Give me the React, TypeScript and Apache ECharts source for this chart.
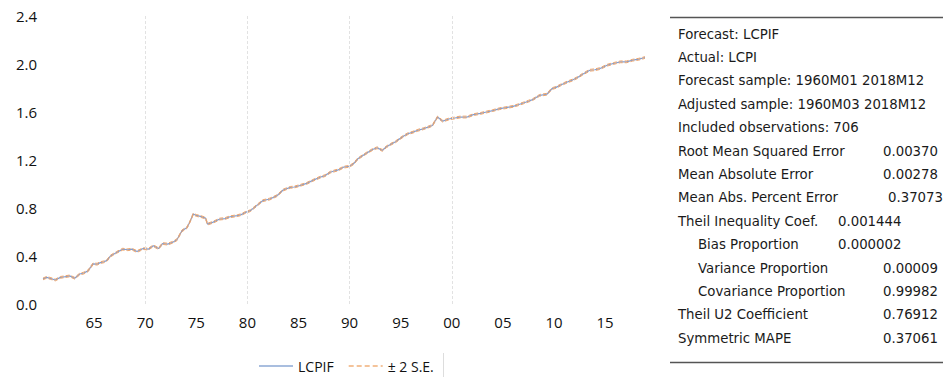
import React, { useEffect, useRef } from "react";
import * as echarts from "echarts";

// Decimal year positions of the read points and the LCPIF forecast values
const years = [
  1960.0, 1960.35, 1960.7, 1961.2, 1961.7, 1962.2, 1962.6, 1963.1, 1963.6, 1964.0, 1964.4, 1964.9,
  1965.3, 1965.6, 1966.0, 1966.3, 1966.6, 1967.2, 1967.8, 1968.3, 1968.7, 1969.2, 1969.8, 1970.3,
  1970.8, 1971.3, 1971.7, 1972.2, 1972.7, 1973.1, 1973.6, 1974.1, 1974.4, 1974.7, 1975.0, 1975.4,
  1975.9, 1976.1, 1976.6, 1977.3, 1977.8, 1978.3, 1979.0, 1979.4, 1979.8, 1980.3, 1980.9, 1981.5,
  1982.2, 1982.9, 1983.5, 1984.2, 1984.6, 1985.1, 1985.8, 1986.4, 1987.1, 1987.6, 1988.1, 1988.4,
  1988.9, 1989.4, 1990.0, 1990.4, 1990.8, 1991.3, 1991.8, 1992.3, 1992.7, 1993.2, 1993.6, 1994.0,
  1994.5, 1994.9, 1995.3, 1995.7, 1996.2, 1996.6, 1997.2, 1997.6, 1998.1, 1998.6, 1999.1, 1999.8,
  2000.3, 2000.8, 2001.5, 2002.1, 2002.8, 2003.4, 2004.0, 2004.7, 2005.3, 2006.0, 2006.5, 2007.0,
  2007.5, 2007.9, 2008.6, 2009.3, 2009.8, 2010.2, 2010.6, 2011.3, 2011.8, 2012.3, 2012.8, 2013.5,
  2014.0, 2014.5, 2015.2, 2015.8, 2016.5, 2017.1, 2017.7, 2018.3, 2018.9,
];

const lcpif = [
  0.209, 0.222, 0.214, 0.2, 0.222, 0.228, 0.234, 0.215, 0.25, 0.258, 0.276, 0.335,
  0.332, 0.345, 0.352, 0.367, 0.4, 0.43, 0.457, 0.452, 0.457, 0.437, 0.462, 0.457,
  0.485, 0.462, 0.504, 0.499, 0.515, 0.535, 0.61, 0.638, 0.69, 0.75, 0.738, 0.73,
  0.716, 0.666, 0.68, 0.708, 0.712, 0.727, 0.736, 0.745, 0.763, 0.778, 0.82, 0.861,
  0.875, 0.903, 0.95, 0.972, 0.975, 0.987, 1.005, 1.03, 1.056, 1.07, 1.098, 1.106,
  1.118, 1.14, 1.148, 1.17, 1.21, 1.238, 1.265, 1.29, 1.302, 1.28, 1.31, 1.33,
  1.352, 1.377, 1.4, 1.419, 1.432, 1.446, 1.46, 1.472, 1.488, 1.558, 1.524, 1.544,
  1.55, 1.558, 1.558, 1.578, 1.588, 1.6, 1.612, 1.628, 1.636, 1.647, 1.66, 1.675,
  1.69, 1.703, 1.739, 1.748, 1.795, 1.805, 1.823, 1.85, 1.866, 1.887, 1.915, 1.948,
  1.952, 1.962, 1.99, 2.004, 2.018, 2.018, 2.032, 2.04, 2.054,
];

// Forecast standard error (two of them either side of the forecast)
const seValue = 0.0037;

const gridYears = [1970, 1980, 1990, 2000];

const statLabels = [
  "Forecast: LCPIF",
  "Actual: LCPI",
  "Forecast sample: 1960M01 2018M12",
  "Adjusted sample: 1960M03 2018M12",
  "Included observations: 706",
  "Root Mean Squared Error",
  "Mean Absolute Error",
  "Mean Abs. Percent Error",
  "Theil Inequality Coef.",
  "Bias Proportion",
  "Variance Proportion",
  "Covariance Proportion",
  "Theil U2 Coefficient",
  "Symmetric MAPE",
];
const statValues = [
  "", "", "", "", "",
  "0.00370", "0.00278", "0.37073", "0.001444", "0.000002",
  "0.00009", "0.99982", "0.76912", "0.37061",
];
// layout per row: [label x, value x]
const statLayout: [number, number][] = [
  [678, 0], [678, 0], [678, 0], [678, 0], [678, 0],
  [678, 883], [678, 883], [678, 888], [678, 838], [698, 838],
  [698, 883], [698, 883], [678, 883], [678, 883],
];

const FONT = "'Open Sans', 'DejaVu Sans', sans-serif";
const STAT_FONT = "'DejaVu Sans', sans-serif";

export default function App() {
  const ref = useRef<HTMLDivElement>(null);
  useEffect(() => {
    if (!ref.current) return;
    const chart = echarts.init(ref.current, undefined, { renderer: "svg" });
    const main = years.map((y, i) => [y, lcpif[i]]);
    const upper = years.map((y, i) => [y, lcpif[i] + 2 * seValue]);
    const lower = years.map((y, i) => [y, lcpif[i] - 2 * seValue]);

    const graphics: any[] = [
      { type: "line", shape: { x1: 670, y1: 17.5, x2: 943, y2: 17.5 }, style: { stroke: "#555", lineWidth: 1.5 } },
      { type: "line", shape: { x1: 670, y1: 362.5, x2: 943, y2: 362.5 }, style: { stroke: "#555", lineWidth: 1.5 } },
      { type: "line", shape: { x1: 443.5, y1: 353, x2: 443.5, y2: 377 }, style: { stroke: "#ddd", lineWidth: 1 } },
    ];
    const rowY0 = 34;
    const rowStep = 23.4;
    statLabels.forEach((lab, i) => {
      const y = rowY0 + i * rowStep;
      graphics.push({
        type: "text", x: statLayout[i][0], y,
        style: { text: lab, font: `13.3px ${STAT_FONT}`, fill: "#1a1a1a", verticalAlign: "middle" },
      });
      if (statValues[i]) {
        graphics.push({
          type: "text", x: statLayout[i][1], y,
          style: { text: statValues[i], font: `13.3px ${STAT_FONT}`, fill: "#1a1a1a", verticalAlign: "middle" },
        });
      }
    });

    chart.setOption({
      animation: false,
      backgroundColor: "#fff",
      grid: { left: 43, right: 297, top: 16, bottom: 73 },
      xAxis: {
        type: "value",
        min: 1960,
        max: 2019,
        interval: 5,
        axisLine: { show: false },
        axisTick: { show: false },
        splitLine: { show: false },
        axisLabel: {
          color: "#111",
          fontFamily: FONT,
          fontSize: 15,
          margin: 10,
          formatter: (v: number) => (v === 1960 || v % 5 !== 0 ? "" : String(v % 100).padStart(2, "0")),
        },
      },
      yAxis: {
        type: "value",
        min: 0,
        max: 2.4,
        interval: 0.4,
        axisLine: { show: false },
        axisTick: { show: false },
        splitLine: { show: false },
        axisLabel: {
          color: "#111",
          fontFamily: FONT,
          fontSize: 15,
          margin: 6,
          formatter: (v: number) => v.toFixed(1),
        },
      },
      legend: {
        left: 253,
        top: 354,
        itemWidth: 34,
        itemHeight: 10,
        itemGap: 14,
        itemStyle: { opacity: 0 },
        textStyle: { fontFamily: FONT, fontSize: 14, color: "#111" },
        data: [
          { name: "LCPIF", lineStyle: { color: "#a9bedf", width: 2 } },
          { name: "± 2 S.E.", lineStyle: { color: "#f4c39a", width: 2, type: [5, 3] } },
        ],
      },
      series: [
        {
          name: "LCPIF",
          type: "line",
          data: main,
          showSymbol: false,
          symbol: "none",
          lineStyle: { color: "#7f9dd2", width: 1.2 },
          itemStyle: { color: "#a9bde0" },
          markLine: {
            silent: true,
            symbol: "none",
            label: { show: false },
            lineStyle: { color: "#e2e2e2", type: [3, 2], width: 1 },
            data: gridYears.map((y) => ({ xAxis: y })),
          },
          z: 2,
        },
        {
          name: "± 2 S.E.",
          type: "line",
          data: upper,
          showSymbol: false,
          symbol: "none",
          lineStyle: { color: "#eea56c", width: 1, type: [4, 2] },
          itemStyle: { color: "#f3c7a1" },
          z: 3,
        },
        {
          name: "± 2 S.E.",
          type: "line",
          data: lower,
          showSymbol: false,
          symbol: "none",
          lineStyle: { color: "#eea56c", width: 1, type: [4, 2] },
          itemStyle: { color: "#f3c7a1" },
          z: 3,
        },
      ],
      graphic: graphics,
    });
    return () => chart.dispose();
  }, []);
  return <div ref={ref} style={{ width: 943, height: 377, position: "absolute", left: 0, top: 0 }} />;
}
